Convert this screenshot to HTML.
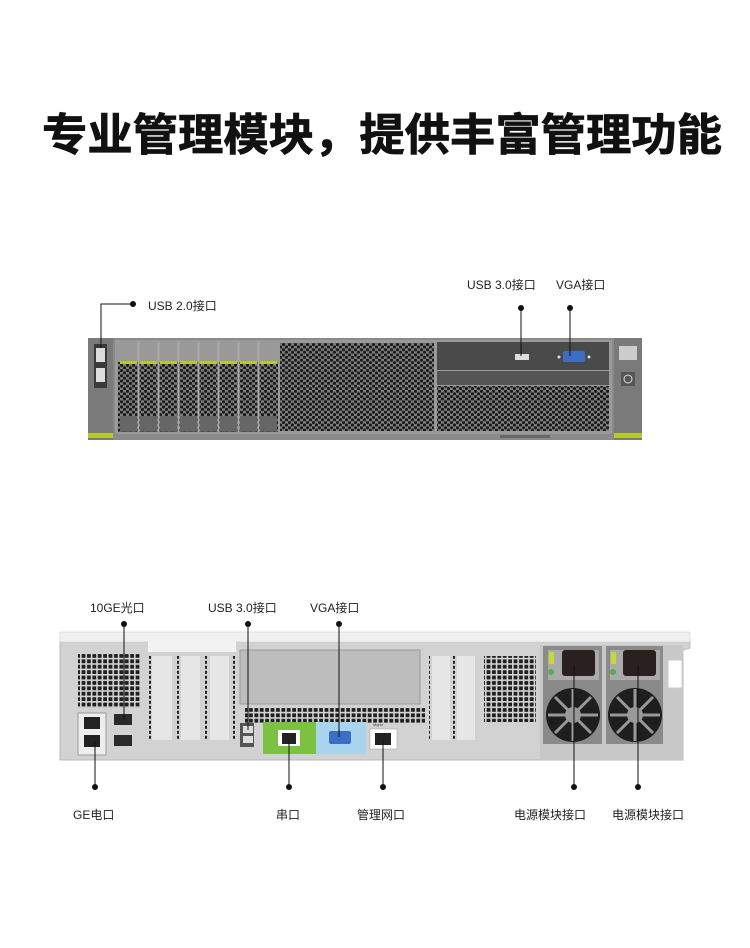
<!DOCTYPE html>
<html><head><meta charset="utf-8"><style>
html,body{margin:0;padding:0;background:#fff;}
svg{display:block}
text{font-family:"Liberation Sans","Noto Sans CJK SC",sans-serif;fill:#222}
</style></head><body>
<svg width="750" height="948" viewBox="0 0 750 948" xmlns="http://www.w3.org/2000/svg">
<defs>
<pattern id="hex" width="6" height="5.2" patternUnits="userSpaceOnUse">
<rect width="6" height="5.2" fill="#7e7e7e"/>
<circle cx="1.5" cy="1.3" r="1.6" fill="#1a1a1a"/>
<circle cx="4.5" cy="3.9" r="1.6" fill="#1a1a1a"/>
</pattern>
<pattern id="sq" width="5.4" height="5.4" patternUnits="userSpaceOnUse">
<rect width="5.4" height="5.4" fill="#d4d4d4"/>
<rect x="0.6" y="0.6" width="3.8" height="3.8" fill="#1e1e1e"/>
</pattern>
<pattern id="vd" width="4" height="5" patternUnits="userSpaceOnUse">
<rect width="4" height="5" fill="#d4d4d4"/>
<rect x="1" y="0.8" width="2" height="3" fill="#222"/>
</pattern>
</defs>

<text x="42" y="150" font-size="44" font-weight="bold" textLength="680" lengthAdjust="spacingAndGlyphs" style="fill:#111;stroke:#111;stroke-width:0.8">专业管理模块，提供丰富管理功能</text>

<!-- FRONT -->
<rect x="88" y="338" width="554" height="102" fill="#8a8a8a"/>
<rect x="88" y="338" width="25" height="102" fill="#7a7a7a"/>
<rect x="88" y="433" width="25" height="5" fill="#b9c82a"/>
<rect x="94" y="344" width="13" height="44" fill="#3a3a3a"/>
<rect x="96" y="348" width="9" height="14" fill="#ddd"/>
<rect x="96" y="368" width="9" height="14" fill="#ddd"/>
<rect x="614" y="338" width="28" height="102" fill="#7a7a7a"/>
<rect x="614" y="433" width="28" height="5" fill="#b9c82a"/>
<rect x="619" y="346" width="18" height="14" fill="#ccc"/>
<rect x="621" y="372" width="14" height="14" fill="#555"/>
<circle cx="628" cy="379" r="4" fill="none" stroke="#ddd"/>
<rect x="115" y="340" width="497" height="94" fill="#9a9a9a"/>
<g>
<rect x="118" y="342" width="160" height="90" fill="url(#hex)"/>
<rect x="118" y="342" width="160" height="20" fill="#999"/>
<g fill="#b9c82a"><rect x="120" y="361" width="17" height="3"/><rect x="140" y="361" width="17" height="3"/><rect x="160" y="361" width="17" height="3"/><rect x="180" y="361" width="17" height="3"/><rect x="200" y="361" width="17" height="3"/><rect x="220" y="361" width="17" height="3"/><rect x="240" y="361" width="17" height="3"/><rect x="260" y="361" width="17" height="3"/></g>
<g fill="#666"><rect x="120" y="416" width="17" height="15"/><rect x="140" y="416" width="17" height="15"/><rect x="160" y="416" width="17" height="15"/><rect x="180" y="416" width="17" height="15"/><rect x="200" y="416" width="17" height="15"/><rect x="220" y="416" width="17" height="15"/><rect x="240" y="416" width="17" height="15"/><rect x="260" y="416" width="17" height="15"/></g>
<g stroke="#aaa" stroke-width="2"><line x1="138.5" y1="342" x2="138.5" y2="432"/><line x1="158.5" y1="342" x2="158.5" y2="432"/><line x1="178.5" y1="342" x2="178.5" y2="432"/><line x1="198.5" y1="342" x2="198.5" y2="432"/><line x1="218.5" y1="342" x2="218.5" y2="432"/><line x1="238.5" y1="342" x2="238.5" y2="432"/><line x1="258.5" y1="342" x2="258.5" y2="432"/></g>
</g>
<rect x="280" y="343" width="154" height="88" fill="url(#hex)"/>
<rect x="437" y="342" width="172" height="28" fill="#4a4a4a"/>
<rect x="437" y="371" width="172" height="14" fill="#555"/>
<rect x="437" y="386" width="172" height="45" fill="url(#hex)"/>
<rect x="515" y="354" width="14" height="6" fill="#ddd"/>
<rect x="563" y="351" width="22" height="11" rx="2" fill="#3b6fc4"/>
<circle cx="559" cy="357" r="1.5" fill="#ddd"/><circle cx="589" cy="357" r="1.5" fill="#ddd"/>
<rect x="500" y="435" width="50" height="3" fill="#666"/>

<!-- front labels -->
<circle cx="133" cy="304" r="3" fill="#111"/>
<polyline points="133,304 101,304 101,348" fill="none" stroke="#111" stroke-width="1"/>
<text x="148" y="310" font-size="12">USB 2.0接口</text>
<text x="467" y="289" font-size="12">USB 3.0接口</text>
<text x="556" y="289" font-size="12">VGA接口</text>
<circle cx="521" cy="308" r="3" fill="#111"/><line x1="521" y1="308" x2="521" y2="356" stroke="#111"/>
<circle cx="570" cy="308" r="3" fill="#111"/><line x1="570" y1="308" x2="570" y2="356" stroke="#111"/>

<!-- REAR -->
<path d="M60,640 L690,640 L690,648 L683,650 L683,760 L60,760 Z" fill="#d2d2d2" stroke="#bbb"/>
<rect x="60" y="632" width="630" height="10" fill="#f0f0f0" stroke="#ccc" stroke-width="0.5"/>
<rect x="148" y="640" width="88" height="12" fill="#f2f2f2"/>
<rect x="78" y="654" width="62" height="54" fill="url(#sq)"/>
<rect x="148" y="656" width="3" height="84" fill="url(#vd)"/>
<rect x="152" y="656" width="20" height="84" fill="#e6e6e6"/><rect x="176" y="656" width="3" height="84" fill="url(#vd)"/>
<rect x="181" y="656" width="19" height="84" fill="#e6e6e6"/><rect x="204" y="656" width="3" height="84" fill="url(#vd)"/>
<rect x="210" y="656" width="19" height="84" fill="#e6e6e6"/><rect x="232" y="656" width="3" height="84" fill="url(#vd)"/>
<rect x="78" y="713" width="28" height="42" fill="#eee" stroke="#999"/>
<rect x="84" y="717" width="16" height="12" fill="#222"/><rect x="84" y="735" width="16" height="12" fill="#222"/>
<rect x="114" y="714" width="18" height="11" fill="#2a2a2a"/><rect x="114" y="735" width="18" height="11" fill="#2a2a2a"/>
<rect x="240" y="650" width="180" height="54" fill="#bdbdbd" stroke="#999"/>
<rect x="245" y="708" width="180" height="15" fill="url(#sq)"/>
<rect x="240" y="723" width="14" height="24" fill="#555"/>
<rect x="243" y="726" width="10" height="7" fill="#ddd"/><rect x="243" y="736" width="10" height="7" fill="#ddd"/>
<rect x="263" y="722" width="53" height="32" fill="#7cc242"/>
<rect x="278" y="730" width="22" height="16" fill="#fff"/><rect x="282" y="733" width="14" height="11" fill="#222"/>
<rect x="316" y="722" width="50" height="32" fill="#a9d4ee"/>
<rect x="329" y="731" width="22" height="13" rx="2" fill="#3b6fc4"/>
<rect x="370" y="729" width="27" height="20" fill="#fff" stroke="#999" stroke-width="0.5"/>
<rect x="375" y="733" width="16" height="12" fill="#222"/>
<text x="373" y="726" font-size="4" style="fill:#444">Mgmt</text>
<rect x="427" y="656" width="3" height="84" fill="url(#vd)"/>
<rect x="432" y="656" width="18" height="84" fill="#e6e6e6"/><rect x="452" y="656" width="3" height="84" fill="url(#vd)"/>
<rect x="457" y="656" width="18" height="84" fill="#e6e6e6"/>
<rect x="484" y="656" width="52" height="66" fill="url(#sq)"/>
<!-- PSUs -->
<rect x="540" y="645" width="143" height="115" fill="#c8c8c8"/>
<g>
<rect x="543" y="646" width="59" height="98" fill="#8a8a8a"/>
<rect x="548" y="650" width="51" height="30" fill="#aaa"/>
<rect x="562" y="650" width="33" height="26" rx="3" fill="#2a2020"/>
<rect x="549" y="652" width="5" height="12" fill="#c7d83a"/>
<circle cx="551" cy="672" r="3" fill="#5a5"/>
<circle cx="573" cy="715" r="27" fill="#1e1e1e"/>
<circle cx="573" cy="715" r="8" fill="#999"/>
<g stroke="#999" stroke-width="3"><line x1="573" y1="689" x2="573" y2="741"/><line x1="548" y1="715" x2="598" y2="715"/><line x1="555" y1="697" x2="591" y2="733"/><line x1="591" y1="697" x2="555" y2="733"/></g>
</g>
<g>
<rect x="606" y="646" width="57" height="98" fill="#8a8a8a"/>
<rect x="610" y="650" width="50" height="30" fill="#aaa"/>
<rect x="623" y="650" width="33" height="26" rx="3" fill="#2a2020"/>
<rect x="611" y="652" width="5" height="12" fill="#c7d83a"/>
<circle cx="613" cy="672" r="3" fill="#5a5"/>
<circle cx="635" cy="715" r="27" fill="#1e1e1e"/>
<circle cx="635" cy="715" r="8" fill="#999"/>
<g stroke="#999" stroke-width="3"><line x1="635" y1="689" x2="635" y2="741"/><line x1="610" y1="715" x2="660" y2="715"/><line x1="617" y1="697" x2="653" y2="733"/><line x1="653" y1="697" x2="617" y2="733"/></g>
</g>
<rect x="668" y="660" width="14" height="28" fill="#fff" stroke="#ccc"/>

<!-- rear labels -->
<g font-size="12">
<text x="90" y="612">10GE光口</text>
<text x="208" y="612">USB 3.0接口</text>
<text x="310" y="612">VGA接口</text>
<text x="73" y="819">GE电口</text>
<text x="276" y="819">串口</text>
<text x="357" y="819">管理网口</text>
<text x="514" y="819">电源模块接口</text>
<text x="612" y="819">电源模块接口</text>
</g>
<g fill="#111">
<circle cx="124" cy="624" r="3"/><circle cx="248" cy="624" r="3"/><circle cx="339" cy="624" r="3"/>
<circle cx="95" cy="787" r="3"/><circle cx="289" cy="787" r="3"/><circle cx="383" cy="787" r="3"/><circle cx="574" cy="787" r="3"/><circle cx="638" cy="787" r="3"/>
</g>
<g stroke="#111" stroke-width="1">
<line x1="124" y1="624" x2="124" y2="720"/><line x1="248" y1="624" x2="248" y2="730"/><line x1="339" y1="624" x2="339" y2="737"/>
<line x1="95" y1="787" x2="95" y2="742"/><line x1="289" y1="787" x2="289" y2="740"/><line x1="383" y1="787" x2="383" y2="740"/>
<line x1="574" y1="787" x2="574" y2="665"/><line x1="638" y1="787" x2="638" y2="665"/>
</g>
</svg>
</body></html>
